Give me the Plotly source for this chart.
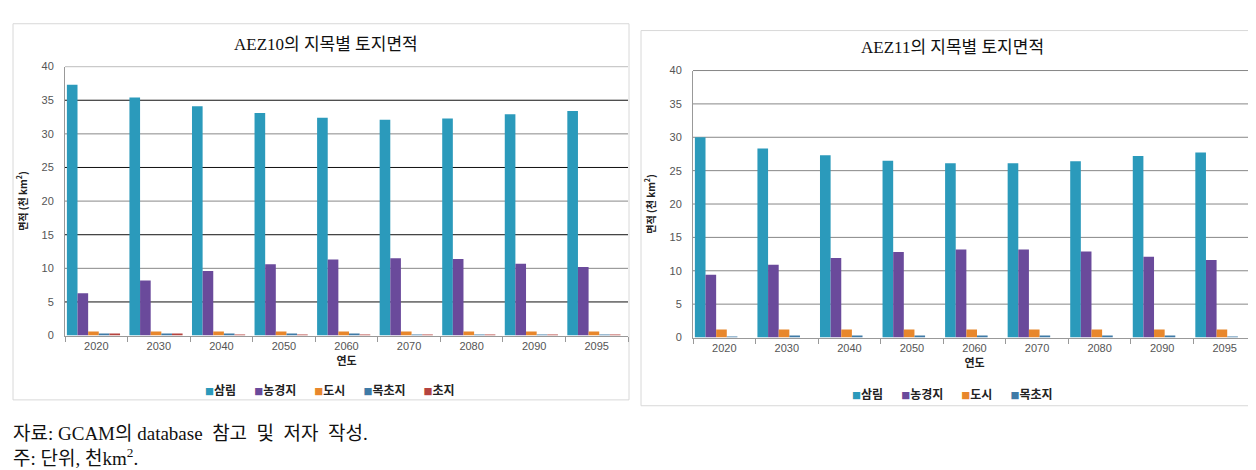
import plotly.graph_objects as go

years = ["2020", "2030", "2040", "2050", "2060", "2070", "2080", "2090", "2095"]

# AEZ10
aez10_forest = [37.3, 35.4, 34.1, 33.1, 32.4, 32.1, 32.3, 32.9, 33.4]
aez10_crop = [6.3, 8.2, 9.6, 10.6, 11.3, 11.5, 11.4, 10.7, 10.2]
aez10_urban = [0.6, 0.6, 0.6, 0.6, 0.6, 0.6, 0.6, 0.6, 0.6]
aez10_pasture = [0.2, 0.2, 0.15, 0.15, 0.15, 0.1, 0.05, 0.05, 0.05]
aez10_grass = [0.2, 0.15, 0.1, 0.1, 0.1, 0.05, 0.05, 0.05, 0.05]

# AEZ11
aez11_forest = [30.0, 28.3, 27.3, 26.5, 26.1, 26.1, 26.4, 27.2, 27.7]
aez11_crop = [9.4, 10.9, 11.9, 12.8, 13.2, 13.2, 12.9, 12.1, 11.6]
aez11_urban = [1.2, 1.2, 1.2, 1.2, 1.2, 1.2, 1.2, 1.2, 1.2]
aez11_pasture = [0.15, 0.3, 0.3, 0.3, 0.2, 0.2, 0.2, 0.2, 0.15]

names = ["삼림", "농경지", "도시", "목초지", "초지"]
colors = ["#2b9abb", "#6a4a9b", "#e8872c", "#3f7aa6", "#b5433f"]

W, H = 1256, 470
def px_x(v): return v / W
def px_y(v): return 1 - v / H

fig = go.Figure()

BW = 0.17
OFF0 = -0.47
left_series = [aez10_forest, aez10_crop, aez10_urban, aez10_pasture, aez10_grass]
for i, (nm, vals) in enumerate(zip(names, left_series)):
    fig.add_trace(go.Bar(x=years, y=vals, name=nm, marker_color=colors[i],
                         marker_line_width=0, width=BW, offset=OFF0 + i * BW,
                         xaxis="x", yaxis="y", showlegend=False))
right_series = [aez11_forest, aez11_crop, aez11_urban, aez11_pasture]
for i, (nm, vals) in enumerate(zip(names[:4], right_series)):
    fig.add_trace(go.Bar(x=years, y=vals, name=nm, marker_color=colors[i],
                         marker_line_width=0, width=BW, offset=OFF0 + i * BW,
                         xaxis="x2", yaxis="y2", showlegend=False))

tickfont = dict(family="Liberation Sans, Noto Sans CJK KR", size=11, color="#555")
ytitle = dict(text="<b>면적 (천 km<sup>2</sup>)</b>",
              font=dict(family="Noto Sans CJK KR", size=10, color="#222"), standoff=12)
xtitle = dict(text="<b>연도</b>", font=dict(family="Noto Sans CJK KR", size=11, color="#222"),
              standoff=4)
yticks = [0, 5, 10, 15, 20, 25, 30, 35, 40]

common_x = dict(type="category", tickson="boundaries", ticks="outside", ticklen=5,
                tickcolor="#999", showline=True, linecolor="#999", linewidth=1,
                tickfont=tickfont, title=xtitle, showgrid=False, fixedrange=True)
common_y = dict(range=[0, 40], tickmode="array", tickvals=yticks, showgrid=False,
                showline=True, linecolor="#999", linewidth=1, ticks="",
                ticklabelstandoff=8,
                tickfont=tickfont, title=ytitle, zeroline=False, fixedrange=True)

fig.update_layout(
    width=W, height=H, autosize=False,
    margin=dict(l=0, r=0, t=0, b=0),
    paper_bgcolor="white", plot_bgcolor="white",
    barmode="overlay",
    xaxis=dict(domain=[px_x(57), px_x(620)], anchor="y", **common_x),
    yaxis=dict(domain=[px_y(330), px_y(54)], anchor="x", **common_y),
    xaxis2=dict(domain=[px_x(685), px_x(1248)], anchor="y2", **common_x),
    yaxis2=dict(domain=[px_y(332), px_y(58)], anchor="x2", **common_y),
)

# gridlines (styled as in the reference)
shapes = []
for v in yticks[1:]:
    c = "#111" if v % 10 == 5 else "#888"
    shapes.append(dict(type="line", xref="x domain", yref="y", x0=0, x1=1, y0=v, y1=v,
                       line=dict(color=c, width=1), layer="below"))
for v in yticks[1:]:
    c = "#111" if v == 40 else "#888"
    shapes.append(dict(type="line", xref="x2 domain", yref="y2", x0=0, x1=1, y0=v, y1=v,
                       line=dict(color=c, width=1), layer="below"))
# panel borders
shapes.append(dict(type="rect", xref="paper", yref="paper", x0=px_x(5), x1=px_x(621),
                   y0=px_y(396), y1=px_y(10), line=dict(color="#d8d8d8", width=1), layer="below"))
shapes.append(dict(type="rect", xref="paper", yref="paper", x0=px_x(633), x1=px_x(1250),
                   y0=px_y(402), y1=px_y(17), line=dict(color="#d8d8d8", width=1), layer="below"))
fig.update_layout(shapes=shapes)

GAP = "\u2003\u2002"


def legend_text(labels, cols):
    parts = []
    for lab, col in zip(labels, cols):
        parts.append(f'<span style="color:{col};font-size:9px">■</span><b>{lab}</b>')
    return GAP.join(parts)


title_font = dict(family="Liberation Serif, Noto Sans CJK KR", size=17, color="#111")
foot_font = dict(family="Liberation Serif, Noto Sans CJK KR", size=19, color="#111")
leg_font = dict(family="Noto Sans CJK KR", size=12, color="#222")
SP = "\u2002"
fig.update_layout(annotations=[
    dict(text="AEZ10의 지목별 토지면적", x=px_x(318), y=px_y(31), xref="paper", yref="paper",
         showarrow=False, xanchor="center", yanchor="middle", font=title_font),
    dict(text="AEZ11의 지목별 토지면적", x=px_x(944), y=px_y(34), xref="paper", yref="paper",
         showarrow=False, xanchor="center", yanchor="middle", font=title_font),
    dict(text=legend_text(names, colors), x=px_x(322), y=px_y(385), xref="paper", yref="paper",
         showarrow=False, xanchor="center", yanchor="middle", font=leg_font),
    dict(text=legend_text(names[:4], colors[:4]), x=px_x(944), y=px_y(389), xref="paper",
         yref="paper", showarrow=False, xanchor="center", yanchor="middle", font=leg_font),
    dict(text=f"자료: GCAM의 database{SP}참고{SP}및{SP}저자{SP}작성.",
         x=px_x(3), y=px_y(431), xref="paper", yref="paper", showarrow=False,
         xanchor="left", yanchor="middle", font=foot_font),
    dict(text="주: 단위, 천km<sup>2</sup>.", x=px_x(3), y=px_y(455), xref="paper",
         yref="paper", showarrow=False, xanchor="left", yanchor="middle", font=foot_font),
])

fig.write_html("out.html")
